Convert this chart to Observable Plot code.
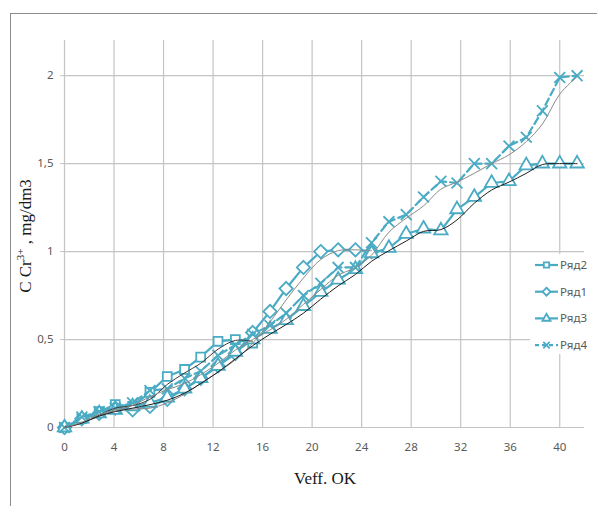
<!DOCTYPE html>
<html><head><meta charset="utf-8">
<script src="https://cdn.jsdelivr.net/npm/d3@7"></script>
<script src="https://cdn.jsdelivr.net/npm/@observablehq/plot@0.6"></script>
<style>
body{margin:0;background:#fff;}
#wrap{position:relative;width:597px;height:506px;overflow:hidden;background:#fff;}
#frame{position:absolute;left:10px;top:13px;width:700px;height:600px;border-left:1px solid #8c8c8c;border-top:1px solid #8c8c8c;}
#chart{position:absolute;left:0;top:0;}
svg [aria-label="y-axis tick"]{stroke:#c4c4c4;}
</style></head><body>
<div id="wrap"><div id="frame"></div><div id="chart"></div></div>
<script>
// x positions of the measurement points (Veff, OK)
const xs = [0,1.4,2.8,4.1,5.5,6.9,8.3,9.7,11,12.4,13.8,15.2,16.6,17.9,19.3,20.7,22.1,23.5,24.8,26.2,27.6,29,30.4,31.7,33.1,34.5,35.9,37.3,38.6,40,41.4];
// series values (C Cr3+, mg/dm3)
const ryad2 = [0,0.05,0.09,0.13,0.12,0.20,0.29,0.33,0.40,0.49,0.50,0.48];
const ryad1 = [0,0.05,0.08,0.11,0.10,0.12,0.16,0.22,0.28,0.35,0.42,0.54,0.66,0.79,0.91,1.0,1.01,1.01,1.0];
const ryad3 = [0,0.05,0.08,0.10,0.12,0.14,0.17,0.22,0.28,0.35,0.43,0.50,0.56,0.61,0.69,0.77,0.84,0.90,0.99,1.02,1.10,1.13,1.12,1.24,1.31,1.39,1.40,1.49,1.50,1.50,1.50];
const ryad4 = [0,0.06,0.09,0.11,0.14,0.21,0.22,0.28,0.32,0.41,0.47,0.53,0.58,0.65,0.75,0.82,0.91,0.91,1.05,1.17,1.21,1.31,1.40,1.39,1.50,1.50,1.60,1.65,1.80,1.99,2.0];
const seriesNames = ["Ряд2","Ряд1","Ряд3","Ряд4"];
const xTicks = [0,4,8,12,16,20,24,28,32,36,40];
const yTicks = [0,0.5,1,1.5,2];

const teal = "#4aabc4";
const symbols = {"Ряд2":"square","Ряд1":"diamond2","Ряд3":"triangle","Ряд4":"times"};
const trendColors = {"Ряд2":"#3a3a3a","Ряд1":"#8a8a8a","Ряд3":"#1e1e1e","Ряд4":"#8a8a8a"};

const seriesValues = {"Ряд2":ryad2,"Ряд1":ryad1,"Ряд3":ryad3,"Ряд4":ryad4};
const rows = [];
for (const name of seriesNames) seriesValues[name].forEach((y,i)=>rows.push({series:name,x:xs[i],y}));

const marks = [
  Plot.gridX(xTicks,{stroke:"#c4c4c4",strokeOpacity:1,strokeWidth:1.2}),
  Plot.gridY(yTicks,{stroke:"#c4c4c4",strokeOpacity:1,strokeWidth:1.2}),
  Plot.ruleY([0],{stroke:"#c4c4c4",strokeWidth:1.2})
];
for (const name of seriesNames) {
  const d = rows.filter(r=>r.series===name);
  marks.push(Plot.line(d,{x:"x",y:"y",stroke:teal,strokeWidth:2.2,strokeDasharray:name==="Ряд4"?"7,4":null}));
  marks.push(Plot.dot(d,{x:"x",y:"y",symbol:()=>symbols[name],r:name==="Ряд1"?6:5,stroke:teal,strokeWidth:1.8,fill:name==="Ряд4"?"none":"white"}));
}
for (const name of seriesNames) {
  const d = rows.filter(r=>r.series===name);
  marks.push(Plot.line(d,Plot.windowY({k:2,anchor:"end",reduce:"mean"},{x:"x",y:"y",stroke:trendColors[name],strokeWidth:1,curve:"catmull-rom"})));
}

const fmt = d => String(d).replace(".",",");
const chart = Plot.plot({
  width:597,height:506,
  marginLeft:64,marginRight:13,marginTop:40,marginBottom:79,
  style:{background:"transparent",fontFamily:"'Noto Sans', sans-serif",fontSize:"11.5px",color:"#595959",overflow:"visible"},
  x:{domain:[0,42],ticks:xTicks,tickSize:0,tickPadding:15,label:null,tickFormat:d=>d},
  y:{domain:[0,2.2],ticks:yTicks,tickSize:4,tickPadding:7,label:null,tickFormat:fmt},
  marks
});
document.getElementById("chart").appendChild(chart);

const svg = d3.select(chart);
// axis titles
svg.append("text").attr("x",325).attr("y",484).attr("text-anchor","middle")
  .attr("font-family","'Liberation Serif', serif").attr("font-size",17).attr("fill","#1a1a1a").text("Veff. OK");
const yt = svg.append("text").attr("transform","translate(31,236) rotate(-90)").attr("text-anchor","middle")
  .attr("font-family","'Liberation Serif', serif").attr("font-size",17).attr("fill","#1a1a1a");
yt.append("tspan").text("C Cr");
yt.append("tspan").attr("font-size",11).attr("dy",-7).text("3+");
yt.append("tspan").attr("dy",7).text(" , mg/dm3");

// legend
const lg = svg.append("g");
lg.append("rect").attr("x",530).attr("y",254).attr("width",67).attr("height",100).attr("fill","white");
const symMap = {"square":d3.symbolSquare,"diamond2":d3.symbolDiamond2,"triangle":d3.symbolTriangle,"times":d3.symbolTimes};
seriesNames.forEach((name,i)=>{
  const y = 265 + i*26.7;
  const g = lg.append("g").attr("transform",`translate(0,${y})`);
  g.append("line").attr("x1",535).attr("x2",558).attr("y1",0).attr("y2",0).attr("stroke",teal).attr("stroke-width",2.2)
    .attr("stroke-dasharray",name==="Ряд4"?"4,3":null);
  const r = name==="Ryad1"?3.4:3;
  g.append("path").attr("transform","translate(546.5,0)").attr("d",d3.symbol(symMap[symbols[name]],Math.PI*r*r*(name==="Ряд1"?1.4:1))())
    .attr("fill",name==="Ряд4"?"none":"white").attr("stroke",teal).attr("stroke-width",1.8);
  g.append("text").attr("x",560).attr("y",0).attr("dy","0.35em").attr("text-anchor","start").attr("font-size",11.5).attr("fill","#595959")
    .attr("font-family","'Noto Sans', sans-serif").text(name);
});
</script>
</body></html>
